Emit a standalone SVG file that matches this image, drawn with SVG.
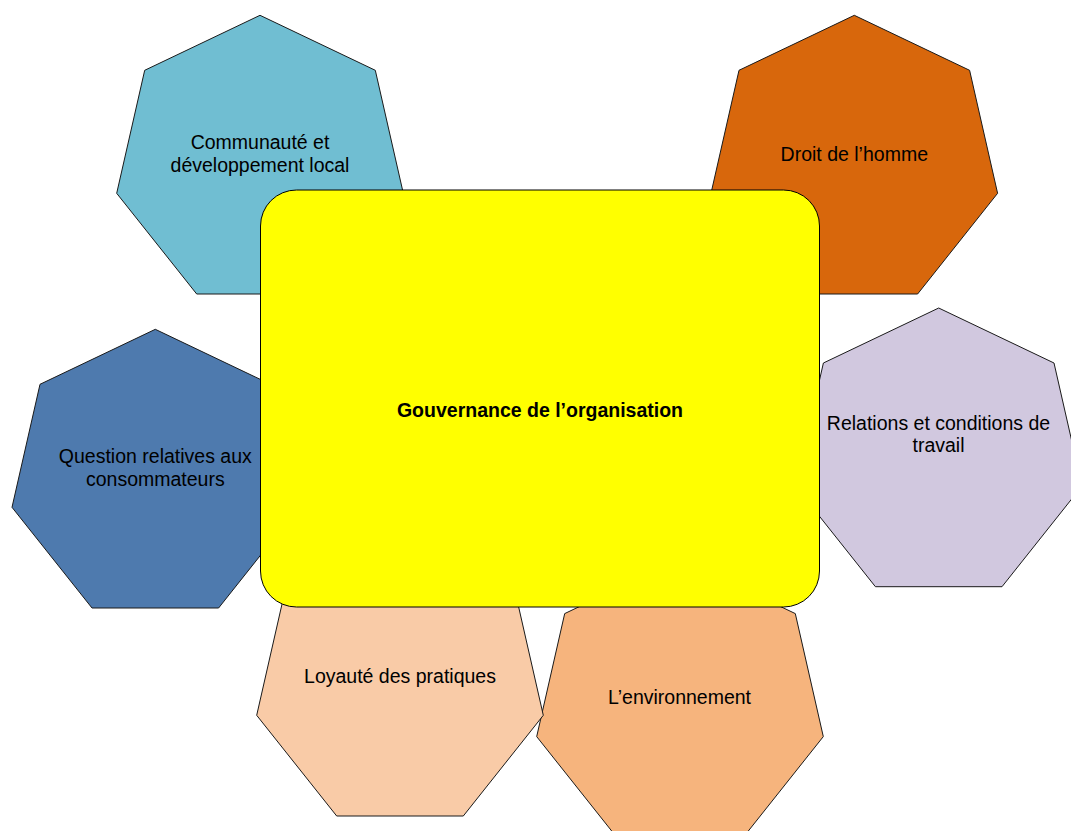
<svg xmlns="http://www.w3.org/2000/svg" width="1071" height="831" viewBox="0 0 1071 831">
<style>
.hep{stroke:#1a1a1a;stroke-width:1}
.lbl{font-family:"Liberation Sans",Arial,sans-serif;font-size:19.5px;fill:#000;text-anchor:middle}
.ttl{font-family:"Liberation Sans",Arial,sans-serif;font-size:19.5px;font-weight:bold;fill:#000;text-anchor:middle}
</style>
<rect width="1071" height="831" fill="#fff"/>
<g id="communaute">
<polygon class="hep" fill="#70BED2" points="260,15.3 375.3,70.3 403.3,193.3 323.3,294 196.7,294 116.7,193.3 144.7,70.3"/>
<text class="lbl" x="260" y="148.7">Communauté et</text>
<text class="lbl" x="260" y="172.3">développement local</text>
</g>
<g id="droit">
<polygon class="hep" fill="#D8670C" points="854.3,15.3 969.6,70.3 997.6,193.3 917.6,294 791,294 711,193.3 739,70.3"/>
<text class="lbl" x="854.3" y="161">Droit de l’homme</text>
</g>
<g id="consommateurs">
<polygon class="hep" fill="#4E7AAE" points="155.3,329.3 270.6,384.3 298.6,507.3 218.6,608 92,608 12,507.3 40,384.3"/>
<text class="lbl" x="155.3" y="462.7">Question relatives aux</text>
<text class="lbl" x="155.3" y="485.7">consommateurs</text>
</g>
<g id="travail">
<polygon class="hep" fill="#D1C8DF" points="938.7,308 1054,363 1082,486 1002,586.7 875.4,586.7 795.4,486 823.4,363"/>
<text class="lbl" x="938.5" y="430">Relations et conditions de</text>
<text class="lbl" x="938.5" y="452.3">travail</text>
</g>
<g id="environnement">
<polygon class="hep" fill="#F6B47D" points="680,558.6 795.3,613.6 823.3,736.6 743.3,837.3 616.7,837.3 536.7,736.6 564.7,613.6"/>
<text class="lbl" x="679.5" y="704">L’environnement</text>
</g>
<g id="loyaute">
<polygon class="hep" fill="#F9CBA7" points="400,537.3 515.3,592.3 543.3,715.3 463.3,816 336.7,816 256.7,715.3 284.7,592.3"/>
<text class="lbl" x="400" y="682.7">Loyauté des pratiques</text>
</g>
<g id="gouvernance">
<rect x="260.5" y="190" width="559" height="417" rx="36" ry="36" fill="#FFFF00" stroke="#000" stroke-width="1"/>
<text class="ttl" x="540" y="416.5">Gouvernance de l’organisation</text>
</g>
<g id="connectors"></g>
</svg>
